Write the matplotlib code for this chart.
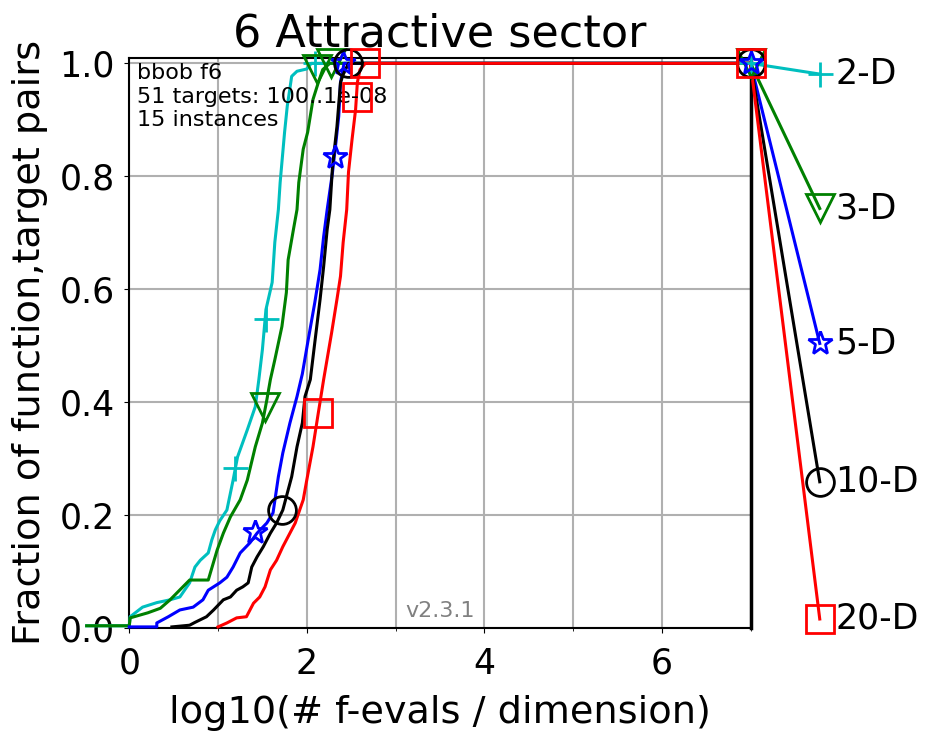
import matplotlib
matplotlib.use("Agg")
import matplotlib.pyplot as plt
from matplotlib.ticker import MultipleLocator

# ECDF of runtimes (log10 f-evals / dim) per dimension, bbob f6
dims = ["2-D", "3-D", "5-D", "10-D", "20-D"]
colors = ["c", "g", "b", "k", "r"]
markers = ["+", "v", "*", "o", "s"]
marker_sizes = [18, 20, 18, 20, 20]

budget_x = 7.0
label_x = 7.78
label_y = [0.981, 0.743, 0.504, 0.259, 0.016]

x_2d = [-0.48, 0.0, 0.01, 0.15, 0.31, 0.46, 0.57, 0.68, 0.74, 0.80, 0.89, 0.93,
        0.97, 1.02, 1.10, 1.17, 1.22, 1.33, 1.42, 1.46, 1.50, 1.54, 1.61, 1.64,
        1.68, 1.70, 1.75, 1.78, 1.83, 1.89, 2.0, 2.05, 7.0]
y_2d = [0.004, 0.004, 0.02, 0.037, 0.045, 0.05, 0.055, 0.08, 0.108, 0.12, 0.133, 0.156,
        0.174, 0.19, 0.209, 0.262, 0.303, 0.351, 0.392, 0.44, 0.493, 0.564, 0.612, 0.683,
        0.741, 0.789, 0.878, 0.924, 0.977, 0.986, 0.99, 1.0, 1.0]

x_3d = [-0.48, 0.0, 0.01, 0.21, 0.35, 0.46, 0.68, 0.89, 0.99, 1.06, 1.14, 1.25,
        1.33, 1.42, 1.50, 1.55, 1.59, 1.64, 1.72, 1.77, 1.79, 1.85, 1.89, 1.91,
        1.96, 2.01, 2.07, 2.13, 2.18, 2.26, 7.0]
y_3d = [0.004, 0.004, 0.018, 0.027, 0.035, 0.05, 0.085, 0.085, 0.138, 0.168, 0.197, 0.227,
        0.262, 0.321, 0.363, 0.404, 0.44, 0.475, 0.534, 0.594, 0.652, 0.706, 0.741, 0.789,
        0.848, 0.878, 0.936, 0.966, 0.989, 1.0, 1.0]

x_5d = [0.0, 0.31, 0.31, 0.44, 0.57, 0.72, 0.83, 0.89, 1.02, 1.10, 1.17, 1.25,
        1.36, 1.44, 1.55, 1.62, 1.68, 1.73, 1.81, 1.89, 1.95, 2.01, 2.09, 2.15,
        2.19, 2.23, 2.29, 2.32, 2.36, 2.38, 2.42, 7.0]
y_5d = [0.002, 0.002, 0.009, 0.02, 0.032, 0.037, 0.05, 0.067, 0.08, 0.09, 0.108, 0.133,
        0.151, 0.168, 0.186, 0.204, 0.268, 0.31, 0.363, 0.41, 0.45, 0.505, 0.576, 0.635,
        0.693, 0.741, 0.807, 0.848, 0.906, 0.966, 1.0, 1.0]

x_10d = [0.48, 0.68, 0.74, 0.87, 0.95, 1.06, 1.14, 1.21, 1.28, 1.34, 1.38, 1.44,
         1.51, 1.59, 1.66, 1.73, 1.83, 1.89, 1.95, 1.98, 2.04, 2.09, 2.15, 2.19,
         2.23, 2.26, 2.29, 2.34, 2.38, 2.41, 2.47, 7.0]
y_10d = [0.002, 0.005, 0.01, 0.02, 0.032, 0.05, 0.055, 0.067, 0.073, 0.08, 0.108, 0.126,
         0.144, 0.168, 0.186, 0.209, 0.268, 0.321, 0.363, 0.41, 0.44, 0.505, 0.582, 0.64,
         0.706, 0.741, 0.817, 0.888, 0.966, 0.98, 1.0, 1.0]

x_20d = [1.0, 1.10, 1.21, 1.32, 1.36, 1.40, 1.47, 1.53, 1.59, 1.66, 1.73, 1.81,
         1.87, 1.92, 1.96, 2.0, 2.07, 2.13, 2.19, 2.28, 2.34, 2.38, 2.41, 2.45,
         2.47, 2.51, 2.55, 2.57, 2.60, 2.66, 7.0]
y_20d = [0.002, 0.009, 0.018, 0.02, 0.032, 0.044, 0.055, 0.073, 0.103, 0.12, 0.144, 0.168,
         0.186, 0.209, 0.227, 0.262, 0.321, 0.381, 0.44, 0.523, 0.582, 0.623, 0.683, 0.741,
         0.807, 0.865, 0.918, 0.966, 0.989, 1.0, 1.0]

# marker positions along each curve
mx_2d, my_2d = [1.19, 1.54, 2.09], [0.284, 0.548, 1.0]
mx_3d, my_3d = [1.53, 2.12, 2.27], [0.392, 0.99, 1.0]
mx_5d, my_5d = [1.42, 2.32, 2.41], [0.170, 0.835, 1.0]
mx_10d, my_10d = [1.72, 2.47], [0.209, 1.0]
mx_20d, my_20d = [2.13, 2.57, 2.66], [0.381, 0.941, 1.0]

curves = [(x_2d, y_2d, mx_2d, my_2d), (x_3d, y_3d, mx_3d, my_3d),
          (x_5d, y_5d, mx_5d, my_5d), (x_10d, y_10d, mx_10d, my_10d),
          (x_20d, y_20d, mx_20d, my_20d)]

fig = plt.figure(figsize=(9.26, 7.33), dpi=100)
ax = fig.add_axes([0.1396, 0.1432, 0.6709, 0.7781])

for (xs, ys, mxs, mys), name, col, mk, ms, ly in zip(
        curves, dims, colors, markers, marker_sizes, label_y):
    ax.plot(xs + [label_x], ys + [ly], color=col, lw=2.2, clip_on=False, zorder=3)
    ax.plot(mxs + [budget_x, label_x], mys + [1.0, ly], ls="none", marker=mk,
            ms=ms, mfc="none", mec=col, mew=2, clip_on=False, zorder=4)
    ax.annotate(name, (label_x, ly), xytext=(11, 0), textcoords="offset points",
                ha="left", va="center", fontsize=25, annotation_clip=False)

ax.set_xlim(0, budget_x)
ax.set_ylim(0, 1.01)
ax.xaxis.set_major_locator(MultipleLocator(2))
ax.xaxis.set_minor_locator(MultipleLocator(1))
ax.yaxis.set_major_locator(MultipleLocator(0.2))
ax.grid(True, which="both", color="#b0b0b0", lw=1.5)
ax.set_axisbelow(True)
ax.tick_params(labelsize=25)
ax.tick_params(axis="x", which="major", pad=10)
ax.tick_params(axis="y", which="major", pad=7)
for side in ["left", "bottom", "top"]:
    ax.spines[side].set_linewidth(1.5)
ax.spines["right"].set_linewidth(2.5)

ax.set_title("6 Attractive sector", fontsize=32, pad=8)
ax.set_xlabel("log10(# f-evals / dimension)", fontsize=27.5, labelpad=10)
ax.set_ylabel("Fraction of function,target pairs", fontsize=27.5, labelpad=8)

ax.text(0.013, 0.99, "bbob f6\n51 targets: 100..1e-08\n15 instances",
        transform=ax.transAxes, ha="left", va="top", fontsize=16)
ax.text(0.5, 0.012, "v2.3.1", transform=ax.transAxes, ha="center", va="bottom",
        fontsize=16, color="gray")

fig.savefig("out.png", dpi=100)
